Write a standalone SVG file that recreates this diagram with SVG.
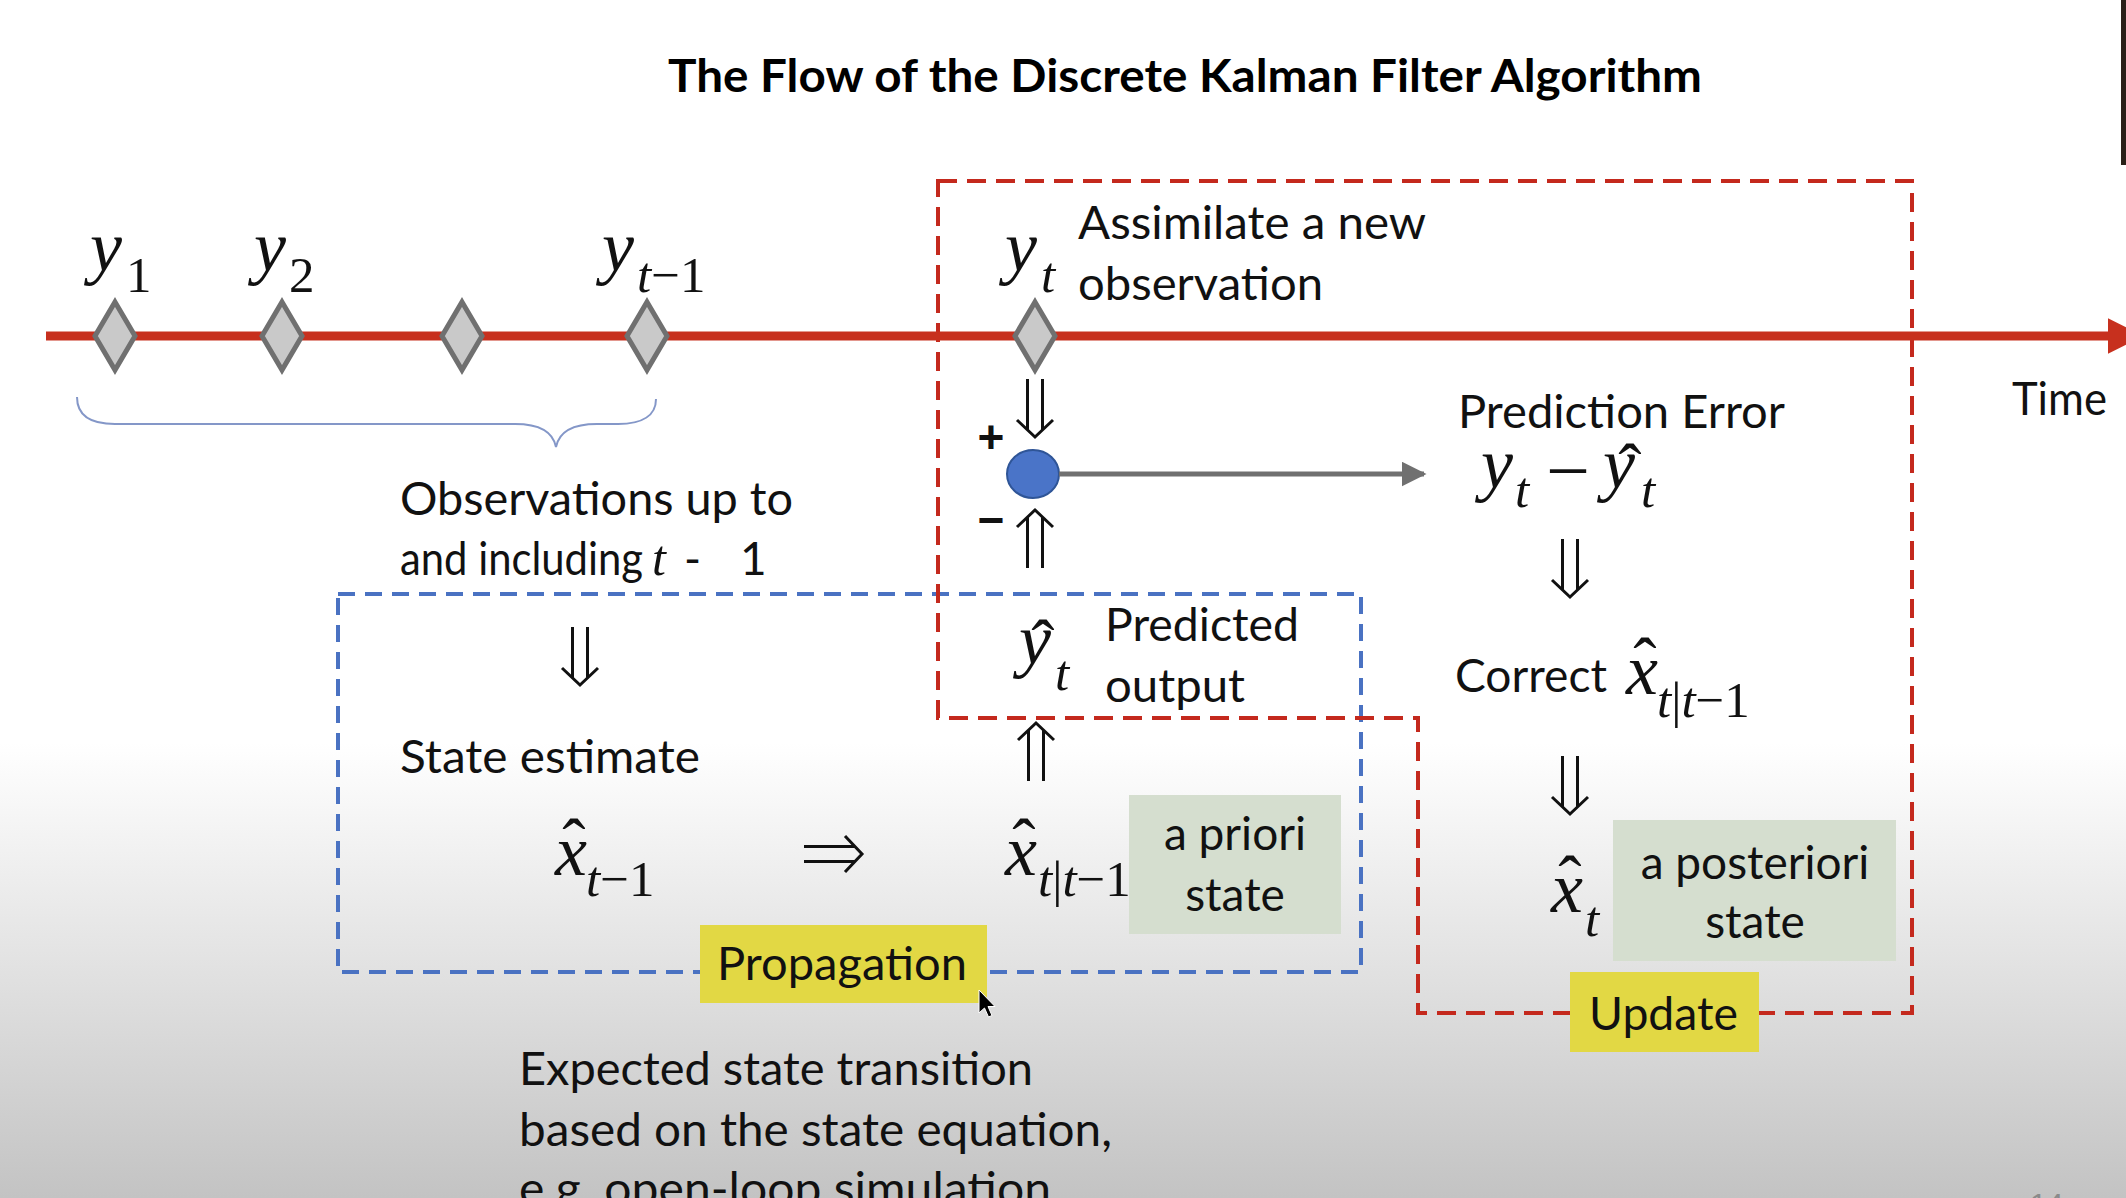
<svg xmlns="http://www.w3.org/2000/svg" width="2126" height="1198" viewBox="0 0 2126 1198">
<style>
.t{font-family:Lato,"Open Sans","Liberation Sans",sans-serif;font-size:46px;fill:#111}
.tb{font-family:Lato,"Open Sans","Liberation Sans",sans-serif;font-size:46px;font-weight:bold;fill:#000}
.m{font-family:"Liberation Serif","Times New Roman",serif;font-style:italic;font-size:72px;fill:#111}
.s{font-family:"Liberation Serif","Times New Roman",serif;font-style:italic;font-size:51px;fill:#111}
.sn{font-style:normal}
.hat{font-family:"Liberation Serif","Times New Roman",serif;font-size:70px;fill:#111;text-anchor:middle}
.dia{fill:#C9C9C9;stroke:#707070;stroke-width:5;stroke-linejoin:miter}
.dbl{fill:none;stroke:#111;stroke-width:3}
.blue{fill:none;stroke:#4A72C2;stroke-width:4;stroke-dasharray:17 10}
.red{fill:none;stroke:#C4291D;stroke-width:4;stroke-dasharray:19 10}
.green{fill:#D5DECF}
.yellow{fill:#E2D844}
</style>
<defs>
<linearGradient id="bg" x1="0" y1="0" x2="0" y2="1198" gradientUnits="userSpaceOnUse">
<stop offset="0" stop-color="#FFFFFF"/>
<stop offset="0.62" stop-color="#FFFFFF"/>
<stop offset="0.8" stop-color="#E3E3E3"/>
<stop offset="1" stop-color="#C3C3C3"/>
</linearGradient>
<g id="dbl">
<path class="dbl" d="M-7.5,-58 V-7 M7.5,-58 V-7 M-18,-17 L0,0 L18,-17"/>
</g>
<marker id="grayhead" viewBox="0 0 10 10" refX="9" refY="5" markerWidth="5" markerHeight="5" orient="auto" markerUnits="strokeWidth">
<path d="M0,0 L10,5 L0,10 Z" fill="#707070"/>
</marker>
<marker id="redhead" viewBox="0 0 10 10" refX="9" refY="5" markerWidth="4" markerHeight="4" orient="auto" markerUnits="strokeWidth">
<path d="M0,0 L10,5 L0,10 Z" fill="#C7301E"/>
</marker>
</defs>
<rect x="0" y="0" width="2126" height="1198" fill="url(#bg)"/>
<rect x="2121" y="0" width="5" height="165" fill="#2A2018"/>

<g id="title"><text class="tb" x="668" y="92" textLength="1034" lengthAdjust="spacingAndGlyphs">The Flow of the Discrete Kalman Filter Algorithm</text></g>

<g id="regions">
<rect id="propagation-region" class="blue" x="338" y="594" width="1023" height="378"/>
<path id="update-region" class="red" d="M938,181 H1912 V1013 H1418 V718 H938 Z"/>
</g>

<g id="timeline">
<line x1="46" y1="336" x2="2140" y2="336" stroke="#C7301E" stroke-width="9" marker-end="url(#redhead)"/>
<text class="t" x="2012" y="415" textLength="95" lengthAdjust="spacingAndGlyphs">Time</text>
</g>

<g id="obs-y1"><path class="dia" d="M115,302 L135,336 L115,370 L95,336 Z"/><text class="m" x="90" y="271">y</text><text class="s sn" x="126" y="292">1</text></g>
<g id="obs-y2"><path class="dia" d="M282,302 L302,336 L282,370 L262,336 Z"/><text class="m" x="254" y="271">y</text><text class="s sn" x="289" y="292">2</text></g>
<g id="obs-mid"><path class="dia" d="M462,302 L482,336 L462,370 L442,336 Z"/></g>
<g id="obs-ytm1"><path class="dia" d="M647,302 L667,336 L647,370 L627,336 Z"/><text class="m" x="602" y="271">y</text><text class="s" x="637" y="292">t<tspan class="sn">−1</tspan></text></g>
<g id="obs-yt"><path class="dia" d="M1035,302 L1055,336 L1035,370 L1015,336 Z"/><text class="m" x="1005" y="271">y</text><text class="s" x="1041" y="292">t</text>
<text class="t" x="1078" y="239" textLength="348" lengthAdjust="spacingAndGlyphs">Assimilate a new</text>
<text class="t" x="1078" y="300" textLength="245" lengthAdjust="spacingAndGlyphs">observation</text></g>

<g id="brace"><path d="M77,397 C77,415 90,424 115,424 L515,424 C540,424 553,432 556,447 C559,432 572,424 597,424 L618,424 C643,424 656,415 656,399" fill="none" stroke="#8497C8" stroke-width="2"/></g>

<g id="observations-label">
<text class="t" x="400" y="515" textLength="393" lengthAdjust="spacingAndGlyphs">Observations up to</text>
<text class="t" x="400" y="575"><tspan textLength="243" lengthAdjust="spacingAndGlyphs">and including</tspan><tspan x="652" style="font-family:'Liberation Serif',serif;font-style:italic;font-size:50px">t</tspan><tspan x="684">-</tspan><tspan x="740">1</tspan></text>
</g>

<g id="sum-junction">
<ellipse cx="1033" cy="474" rx="26" ry="24" fill="#4A74C8" stroke="#2F5597" stroke-width="2"/>
<text x="991" y="453" font-family="Liberation Sans,Arial,sans-serif" font-size="46" font-weight="bold" text-anchor="middle" fill="#111">+</text>
<text x="991" y="536" font-family="Liberation Sans,Arial,sans-serif" font-size="46" font-weight="bold" text-anchor="middle" fill="#111">−</text>
</g>

<g id="prediction-error">
<text class="t" x="1458" y="428" textLength="327" lengthAdjust="spacingAndGlyphs">Prediction Error</text>
<text class="m" x="1481" y="488">y</text><text class="s" x="1515" y="507">t</text>
<text x="1546" y="497" font-family="Liberation Serif,serif" font-size="78" fill="#111">−</text>
<text class="m" x="1603" y="488">y</text><text class="hat" x="1630" y="492">ˆ</text><text class="s" x="1641" y="507">t</text>
</g>

<g id="predicted-output">
<text class="m" x="1019" y="664">y</text><text class="hat" x="1043" y="668">ˆ</text><text class="s" x="1055" y="690">t</text>
<text class="t" x="1105" y="641" textLength="194" lengthAdjust="spacingAndGlyphs">Predicted</text>
<text class="t" x="1105" y="702" textLength="140" lengthAdjust="spacingAndGlyphs">output</text>
</g>

<g id="state-estimate">
<text class="t" x="400" y="773" textLength="300" lengthAdjust="spacingAndGlyphs">State estimate</text>
<text class="m" x="555" y="875">x</text><text class="hat" x="574" y="867">ˆ</text><text class="s" x="586" y="896">t<tspan class="sn">−1</tspan></text>
</g>

<g id="a-priori">
<text class="m" x="1005" y="875">x</text><text class="hat" x="1024" y="867">ˆ</text><text class="s" x="1038" y="896">t<tspan class="sn">|</tspan>t<tspan class="sn">−1</tspan></text>
<rect class="green" x="1129" y="795" width="212" height="139"/>
<text class="t" x="1235" y="850" text-anchor="middle">a priori</text>
<text class="t" x="1235" y="911" text-anchor="middle">state</text>
</g>

<g id="propagation-label">
<rect class="yellow" x="700" y="925" width="287" height="78"/>
<text class="t" x="717" y="980" textLength="250" lengthAdjust="spacingAndGlyphs">Propagation</text>
</g>

<g id="correct">
<text class="t" x="1455" y="692" textLength="152" lengthAdjust="spacingAndGlyphs">Correct</text>
<text class="m" x="1626" y="694">x</text><text class="hat" x="1645" y="686">ˆ</text><text class="s" x="1657" y="717">t<tspan class="sn">|</tspan>t<tspan class="sn">−1</tspan></text>
</g>

<g id="a-posteriori">
<text class="m" x="1551" y="912">x</text><text class="hat" x="1570" y="904">ˆ</text><text class="s" x="1585" y="936">t</text>
<rect class="green" x="1613" y="820" width="283" height="141"/>
<text class="t" x="1755" y="879" text-anchor="middle">a posteriori</text>
<text class="t" x="1755" y="938" text-anchor="middle">state</text>
</g>

<g id="update-label">
<rect class="yellow" x="1570" y="972" width="189" height="80"/>
<text class="t" x="1589" y="1030" textLength="149" lengthAdjust="spacingAndGlyphs">Update</text>
</g>

<g id="transition-note">
<text class="t" x="519" y="1085" textLength="514" lengthAdjust="spacingAndGlyphs">Expected state transition</text>
<text class="t" x="519" y="1146" textLength="593" lengthAdjust="spacingAndGlyphs">based on the state equation,</text>
<text class="t" x="519" y="1205" textLength="532" lengthAdjust="spacingAndGlyphs">e.g. open-loop simulation</text>
</g>

<g id="connectors">
<use href="#dbl" transform="translate(1035,437)"/>
<use href="#dbl" transform="translate(1035,510) rotate(180)"/>
<use href="#dbl" transform="translate(580,685)"/>
<use href="#dbl" transform="translate(1570,597)"/>
<use href="#dbl" transform="translate(1036,723) rotate(180)"/>
<use href="#dbl" transform="translate(1570,814)"/>
<use href="#dbl" transform="translate(862,854) rotate(-90)"/>
<line x1="1059" y1="474" x2="1424" y2="474" stroke="#707070" stroke-width="5" marker-end="url(#grayhead)"/>
</g>

<g id="cursor"><path d="M979,990 L979,1013 L984.5,1008 L988.5,1017 L992,1015.5 L988,1006.5 L995,1006.5 Z" fill="#000" stroke="#fff" stroke-width="1"/></g>
<g id="page-number"><text x="2030" y="1214" font-family="Liberation Sans,Arial,sans-serif" font-size="30" fill="#8A8A8A">14</text></g>
</svg>
